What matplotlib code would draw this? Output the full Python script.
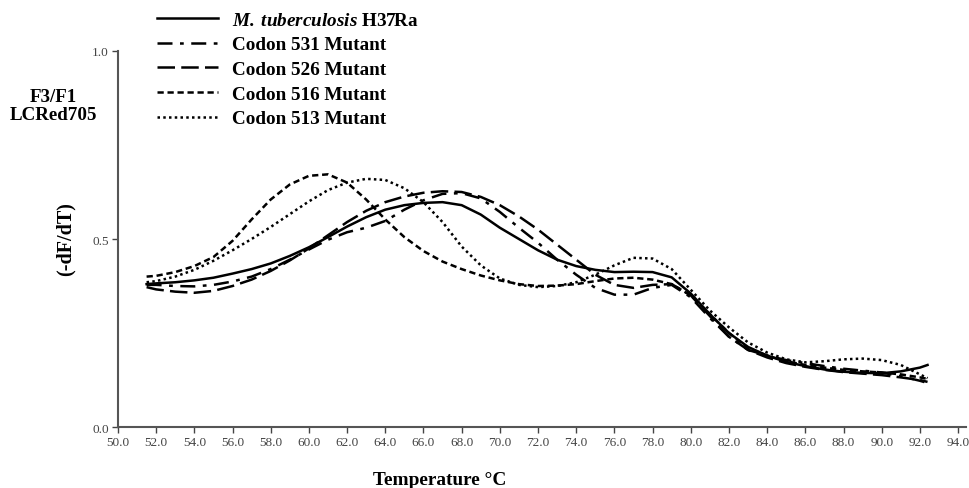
import numpy as np
import matplotlib
matplotlib.use("Agg")
import matplotlib.pyplot as plt

plt.rcParams['font.family'] = ['Liberation Serif', 'DejaVu Serif']
plt.rcParams['mathtext.fontset'] = 'custom'
plt.rcParams['mathtext.bfit'] = 'Liberation Serif:italic:bold'
plt.rcParams['mathtext.rm'] = 'Liberation Serif:bold'

# temperature grid (deg C) the curves were read at
temp = [51.5] + list(range(52, 93)) + [92.4]

h37ra = [0.380, 0.382, 0.385, 0.390, 0.397, 0.408, 0.420, 0.435, 0.455, 0.478,
         0.505, 0.533, 0.558, 0.578, 0.590, 0.596, 0.598, 0.590, 0.565, 0.530,
         0.500, 0.470, 0.445, 0.428, 0.418, 0.412, 0.413, 0.412, 0.398, 0.355,
         0.300, 0.250, 0.213, 0.190, 0.173, 0.162, 0.153, 0.147, 0.144, 0.143,
         0.148, 0.158, 0.165]
codon531 = [0.378, 0.378, 0.375, 0.374, 0.378, 0.387, 0.400, 0.420, 0.445, 0.472,
            0.498, 0.518, 0.530, 0.548, 0.578, 0.603, 0.620, 0.622, 0.608, 0.572,
            0.530, 0.490, 0.445, 0.405, 0.370, 0.352, 0.352, 0.370, 0.378, 0.345,
            0.290, 0.240, 0.205, 0.190, 0.178, 0.170, 0.162, 0.155, 0.150, 0.145,
            0.135, 0.123, 0.117]
codon526 = [0.372, 0.366, 0.360, 0.357, 0.362, 0.375, 0.392, 0.415, 0.443, 0.475,
            0.510, 0.545, 0.575, 0.598, 0.613, 0.623, 0.627, 0.625, 0.612, 0.590,
            0.560, 0.525, 0.485, 0.445, 0.405, 0.378, 0.370, 0.378, 0.380, 0.350,
            0.295, 0.240, 0.205, 0.185, 0.170, 0.160, 0.152, 0.146, 0.142, 0.138,
            0.132, 0.125, 0.120]
codon516 = [0.400, 0.402, 0.412, 0.428, 0.452, 0.495, 0.552, 0.605, 0.645, 0.668,
            0.672, 0.650, 0.605, 0.552, 0.505, 0.468, 0.440, 0.420, 0.403, 0.390,
            0.380, 0.375, 0.376, 0.380, 0.388, 0.395, 0.397, 0.392, 0.380, 0.350,
            0.300, 0.250, 0.210, 0.190, 0.175, 0.165, 0.158, 0.152, 0.148, 0.145,
            0.140, 0.132, 0.128]
codon513 = [0.385, 0.388, 0.400, 0.418, 0.442, 0.470, 0.500, 0.532, 0.566, 0.600,
            0.630, 0.650, 0.660, 0.657, 0.635, 0.598, 0.545, 0.480, 0.430, 0.395,
            0.378, 0.372, 0.375, 0.385, 0.405, 0.430, 0.450, 0.448, 0.420, 0.365,
            0.310, 0.265, 0.225, 0.198, 0.180, 0.172, 0.175, 0.180, 0.182, 0.178,
            0.165, 0.140, 0.130]

xticks = np.arange(50, 95, 2)
yticks = [0.0, 0.5, 1.0]

fig = plt.figure(figsize=(9.7, 4.89), dpi=100)
ax = fig.add_axes([0.1216, 0.1247, 0.874, 0.769])

ax.plot(temp, h37ra, color='black', lw=1.8, ls='-',
        label=r'$\mathbfit{M.}$$\,$$\mathbfit{tuberculosis}$ H37Ra')
ax.plot(temp, codon531, color='black', lw=1.8, ls=(0, (6, 3, 1.5, 3)),
        label='Codon 531 Mutant')
ax.plot(temp, codon526, color='black', lw=1.8, ls=(0, (7, 2.5)),
        label='Codon 526 Mutant')
ax.plot(temp, codon516, color='black', lw=1.8, ls=(0, (2.5, 1.5)),
        label='Codon 516 Mutant')
ax.plot(temp, codon513, color='black', lw=1.8, ls=(0, (1, 1.3)),
        label='Codon 513 Mutant')

ax.set_xlim(50, 94.4)
ax.set_ylim(0, 1.0)
ax.set_xticks(xticks)
ax.set_xticklabels([f"{t:.1f}" for t in xticks])
ax.set_yticks(yticks)
ax.set_yticklabels([f"{t:.1f}" for t in yticks])
ax.tick_params(axis='both', direction='out', length=4.5, width=1, colors='#444444',
               labelsize=9.5, labelcolor='#444444', pad=2)
for s in ['top', 'right']:
    ax.spines[s].set_visible(False)
for s in ['left', 'bottom']:
    ax.spines[s].set_color('#555555')
    ax.spines[s].set_linewidth(1.5)

fig.text(0.068, 0.511, '(-dF/dT)', rotation=90, fontsize=14.5, fontweight='bold',
         ha='center', va='center')
fig.text(0.453, 0.018, 'Temperature \u00b0C', fontsize=13.9, fontweight='bold',
         ha='center', va='center')
fig.text(0.055, 0.782, 'F3/F1\nLCRed705', fontsize=13.7, fontweight='bold',
         ha='center', va='center', linespacing=1.1)

fig.legend(loc='upper left', bbox_to_anchor=(0.162, 0.975), frameon=False,
           prop={'weight': 'bold', 'size': 13.75}, handlelength=3.2,
           handletextpad=0.73, labelspacing=0.385, borderaxespad=0, borderpad=0)

fig.savefig('out.png', dpi=100)
